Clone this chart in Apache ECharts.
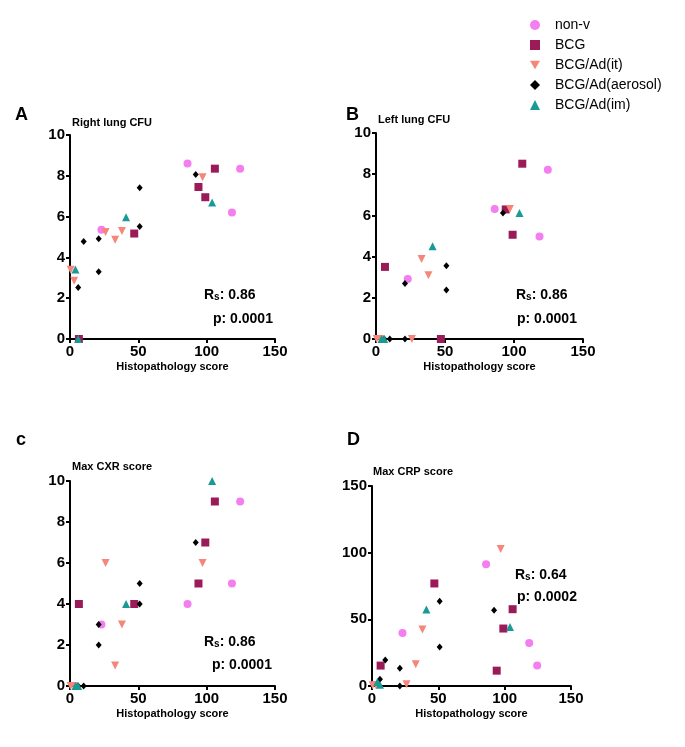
<!DOCTYPE html>
<html>
<head>
<meta charset="utf-8">
<script src="https://cdn.jsdelivr.net/npm/echarts@6/dist/echarts.min.js"></script>
<style>html,body{margin:0;padding:0;background:#fff}#c{width:685px;height:747px}</style>
</head>
<body>
<div id="c"></div>
<script>
// ---- data ----
const groupNames = ['non-v', 'BCG', 'BCG/Ad(it)', 'BCG/Ad(aerosol)', 'BCG/Ad(im)'];
const panelTitles = ['Right lung CFU', 'Left lung CFU', 'Max CXR score', 'Max CRP score'];
const panelLetters = ['A', 'B', 'c', 'D'];
const xTicks = [0, 50, 100, 150];
const yMaxes = [10, 10, 10, 150];
const yIntervals = [2, 2, 2, 50];
const rsLabels = ['0.86', '0.86', '0.86', '0.64'];
const pLabels = ['0.0001', '0.0001', '0.0001', '0.0002'];

// histopathology score (x) per animal, per group
const histoNonV = [86, 124.5, 118.5, 23];
const histoBCG = [106, 94, 99, 47, 6.5];
const histoIt = [97, 26, 33, 38, 0.5, 3];
const histoAerosol = [92, 51, 51, 21, 10, 21, 6];
const histoIm = [104, 41, 4, 6];

// Right lung CFU
const rightNonV = [8.6, 8.35, 6.2, 5.35];
const rightBCG = [8.35, 7.45, 6.95, 5.17, 0];
const rightIt = [7.93, 5.24, 4.86, 5.29, 3.39, 2.85];
const rightAerosol = [8.06, 7.42, 5.51, 4.91, 4.78, 3.3, 2.53];
const rightIm = [6.69, 5.97, 3.41, 0];

// Left lung CFU
const leftNonV = [6.31, 8.22, 4.98, 2.91];
const leftBCG = [8.51, 6.29, 5.06, 0, 3.5];
const leftIt = [6.31, 0, 3.88, 3.09, 0, 0];
const leftAerosol = [6.12, 3.56, 2.38, 2.7, 0, 0, 0];
const leftIm = [6.12, 4.5, 0, 0];

// Max CXR score
const cxrNonV = [4, 9, 5, 3];
const cxrBCG = [9, 5, 7, 4, 4];
const cxrIt = [6, 6, 1, 3, 0, 0];
const cxrAerosol = [7, 5, 4, 3, 0, 2, 0];
const cxrIm = [10, 4, 0, 0];

// Max CRP score
const crpNonV = [91.4, 15.3, 32.3, 39.8];
const crpBCG = [57.6, 11.5, 43.1, 76.9, 15.3];
const crpIt = [102.7, 1.25, 16.3, 42.3, 0.5, 0.5];
const crpAerosol = [56.8, 63.6, 29.3, 13.3, 19.5, 0, 5];
const crpIm = [44.3, 57.4, 3, 1];

// ---- assembly ----
const histo = [histoNonV, histoBCG, histoIt, histoAerosol, histoIm];
const panelValues = [
  [rightNonV, rightBCG, rightIt, rightAerosol, rightIm],
  [leftNonV, leftBCG, leftIt, leftAerosol, leftIm],
  [cxrNonV, cxrBCG, cxrIt, cxrAerosol, cxrIm],
  [crpNonV, crpBCG, crpIt, crpAerosol, crpIm]
];
const colors = ['#f47df0', '#9a1b58', '#f6857a', '#000000', '#1a9a94'];
const symbols = ['circle', 'rect', 'path://M0,0L2,0L1,1.732Z', 'diamond', 'triangle'];
const sizes = [8, 8, 8, [6, 7], 8];

const grids = [
  {left: 70, top: 135, width: 205, height: 204},
  {left: 376, top: 133, width: 207, height: 206},
  {left: 70, top: 481, width: 205, height: 205},
  {left: 372, top: 486, width: 199, height: 200}
];

const FONT = 'Arial, "Liberation Sans", Helvetica, sans-serif';

const xAxes = grids.map((g, i) => ({
  type: 'value', gridIndex: i, min: 0, max: 150, interval: 50,
  name: 'Histopathology score', nameLocation: 'middle', nameGap: 22,
  nameTextStyle: {fontFamily: FONT, fontWeight: 'bold', fontSize: 11, color: '#000'},
  axisLine: {show: true, lineStyle: {color: '#000', width: 2}},
  axisTick: {show: true, length: 4, lineStyle: {color: '#000', width: 2}},
  axisLabel: {fontFamily: FONT, fontWeight: 'bold', fontSize: 15, color: '#000', margin: 5},
  splitLine: {show: false}
}));
const yAxes = grids.map((g, i) => ({
  type: 'value', gridIndex: i, min: 0, max: yMaxes[i], interval: yIntervals[i],
  axisLine: {show: true, lineStyle: {color: '#000', width: 2}},
  axisTick: {show: true, length: 4, lineStyle: {color: '#000', width: 2}},
  axisLabel: {fontFamily: FONT, fontWeight: 'bold', fontSize: 15, color: '#000', margin: 5},
  splitLine: {show: false}
}));

const series = [];
for (let p = 0; p < 4; p++) {
  for (let gI = 0; gI < groupNames.length; gI++) {
    series.push({
      type: 'scatter', name: groupNames[gI], xAxisIndex: p, yAxisIndex: p,
      symbol: symbols[gI], symbolSize: sizes[gI],
      itemStyle: {color: colors[gI], opacity: 1},
      data: histo[gI].map((x, k) => [x, panelValues[p][gI][k]]),
      clip: false
    });
  }
}

const graphics = [];
const letterPos = [[15, 106], [346, 106], [16, 431], [347, 431]];
const titlePos = [[72, 117], [378, 114], [72, 461], [373, 466]];
const rsPos = [[204, 286], [516, 286], [204, 633], [515, 566]];
const pPos = [[213, 312], [517, 312], [212, 658], [517, 590]];
for (let i = 0; i < 4; i++) {
  graphics.push({type: 'text', left: letterPos[i][0], top: letterPos[i][1],
    style: {text: panelLetters[i], font: 'bold 18px ' + FONT, fill: '#000'}});
  graphics.push({type: 'text', left: titlePos[i][0], top: titlePos[i][1],
    style: {text: panelTitles[i], font: 'bold 11px ' + FONT, fill: '#000'}});
  graphics.push({type: 'text', left: rsPos[i][0], top: rsPos[i][1],
    style: {text: '{a|R}{s|s}{a|: ' + rsLabels[i] + '}', rich: {
      a: {font: 'bold 14px ' + FONT, fill: '#000', lineHeight: 18, verticalAlign: 'bottom'},
      s: {font: 'bold 10px ' + FONT, fill: '#000', lineHeight: 18, padding: [6, 0, 0, 0], verticalAlign: 'bottom'}
    }}});
  graphics.push({type: 'text', left: pPos[i][0], top: pPos[i][1],
    style: {text: 'p: ' + pLabels[i], font: 'bold 14px ' + FONT, fill: '#000'}});
}

const chart = echarts.init(document.getElementById('c'), null, {renderer: 'canvas'});
chart.setOption({
  animation: false,
  backgroundColor: '#fff',
  grid: grids,
  xAxis: xAxes,
  yAxis: yAxes,
  legend: {
    data: groupNames, orient: 'vertical', left: 525, top: 13,
    itemWidth: 10, itemHeight: 10, itemGap: 6,
    textStyle: {fontFamily: FONT, fontSize: 14, color: '#000', padding: [0, 0, 0, 10]},
    selectedMode: false
  },
  graphic: graphics,
  series: series
});
</script>
</body>
</html>
